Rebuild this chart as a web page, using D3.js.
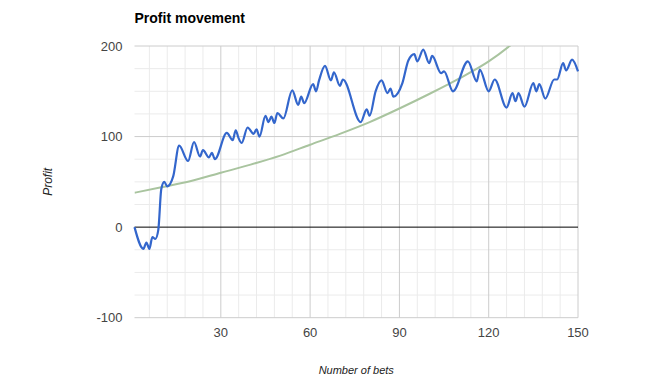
<!DOCTYPE html>
<html>
<head>
<meta charset="utf-8">
<script src="https://cdn.jsdelivr.net/npm/d3@7"></script>
<style>
  body { margin: 0; background: #fff; }
  text { font-family: "Liberation Sans", Arial, sans-serif; }
</style>
</head>
<body>
<div id="chart"></div>
<script>
// profit after each bet (turning points)
const profitBets = [1, 4, 5, 6, 7, 8, 9, 10, 11, 12, 14, 16, 19, 21, 23, 24, 26, 27, 28,
  32, 34, 35, 36, 37, 39, 41, 42, 43, 45, 46, 47, 48, 49, 51, 54, 56, 57, 58,
  61, 62, 63, 65, 67, 68, 70, 71, 77, 79, 80, 82, 84, 86, 87, 88, 91, 93, 95,
  96, 98, 100, 101, 104, 105, 108, 113, 116, 117, 120, 122, 126, 128, 129, 130,
  132, 135, 136, 137, 139, 142, 143, 145, 146, 148, 150];
const profitValues = [0, -24, -17, -24, -11, -13, -3, 42, 50, 45, 56, 90, 73, 94, 78, 85, 77, 82, 75,
  104, 96, 107, 98, 93, 110, 103, 108, 100, 123, 116, 122, 115, 126, 120, 151, 135, 144, 137,
  158, 150, 162, 178, 162, 171, 156, 163, 116, 130, 123, 150, 162, 148, 153, 144, 159, 184, 191,
  183, 196, 181, 189, 170, 172, 150, 183, 161, 174, 150, 163, 132, 148, 139, 148,
  133, 159, 150, 158, 142, 163, 163, 181, 173, 185, 172];

// green reference curve
const targetBets = [1, 10, 20, 30, 40, 50, 60, 70, 80, 90, 100, 110, 120, 127, 132];
const targetValues = [38, 44, 51, 60, 69, 79, 91, 103, 116, 131, 147, 164, 183, 200, 214];

const xTicks = [30, 60, 90, 120, 150];
const yTicks = [-100, 0, 100, 200];

const width = 672, height = 392;
const plot = {left: 134.5, right: 578, top: 46, bottom: 317.7};

const svg = d3.select('#chart').append('svg')
  .attr('width', width)
  .attr('height', height);

const x = d3.scaleLinear().domain([1, 150]).range([plot.left, plot.right]);
const y = d3.scaleLinear().domain([-100, 200]).range([plot.bottom, plot.top]);

// minor grid
const grid = svg.append('g');
grid.selectAll('line.vminor')
  .data(d3.range(6, 151, 6).filter(d => d % 30 != 0))
  .enter().append('line')
  .attr('x1', d => x(d)).attr('x2', d => x(d))
  .attr('y1', plot.top).attr('y2', plot.bottom)
  .attr('stroke', '#ebebeb');
grid.selectAll('line.hminor')
  .data(d3.range(-100, 201, 25).filter(d => d % 100 != 0))
  .enter().append('line')
  .attr('x1', plot.left).attr('x2', plot.right)
  .attr('y1', d => y(d)).attr('y2', d => y(d))
  .attr('stroke', '#ebebeb');

// major grid
grid.selectAll('line.vmajor')
  .data(xTicks)
  .enter().append('line')
  .attr('x1', d => x(d)).attr('x2', d => x(d))
  .attr('y1', plot.top).attr('y2', plot.bottom)
  .attr('stroke', '#cccccc');
grid.selectAll('line.hmajor')
  .data(yTicks.filter(d => d != 0))
  .enter().append('line')
  .attr('x1', plot.left).attr('x2', plot.right)
  .attr('y1', d => y(d)).attr('y2', d => y(d))
  .attr('stroke', '#cccccc');

// tick labels
svg.append('g').selectAll('text')
  .data(yTicks)
  .enter().append('text')
  .attr('x', plot.left - 12)
  .attr('y', d => y(d) + 4.5)
  .attr('text-anchor', 'end')
  .attr('font-size', 13)
  .attr('fill', '#444')
  .text(d => d);
svg.append('g').selectAll('text')
  .data(xTicks)
  .enter().append('text')
  .attr('x', d => x(d))
  .attr('y', 337)
  .attr('text-anchor', 'middle')
  .attr('font-size', 13)
  .attr('fill', '#444')
  .text(d => d);

// clip to plot area
svg.append('clipPath').attr('id', 'clip')
  .append('rect')
  .attr('x', plot.left).attr('y', plot.top)
  .attr('width', plot.right - plot.left)
  .attr('height', plot.bottom - plot.top);

const target = targetBets.map((b, i) => [b, targetValues[i]]);
const profit = profitBets.map((b, i) => [b, profitValues[i]]);

const line = d3.line()
  .x(d => x(d[0]))
  .y(d => y(d[1]))
  .curve(d3.curveMonotoneX);

svg.append('path')
  .attr('clip-path', 'url(#clip)')
  .attr('d', line(target))
  .attr('fill', 'none')
  .attr('stroke', '#a9c49f')
  .attr('stroke-width', 2);

// zero baseline
svg.append('line')
  .attr('x1', plot.left).attr('x2', plot.right)
  .attr('y1', y(0)).attr('y2', y(0))
  .attr('stroke', '#000');

svg.append('path')
  .attr('d', line(profit))
  .attr('fill', 'none')
  .attr('stroke', '#3366cc')
  .attr('stroke-width', 2.2)
  .attr('stroke-linejoin', 'round');

// titles
svg.append('text')
  .attr('x', plot.left)
  .attr('y', 23)
  .attr('font-size', 14)
  .attr('font-weight', 'bold')
  .attr('fill', '#000')
  .text('Profit movement');

svg.append('text')
  .attr('transform', 'translate(52,' + y(50) + ') rotate(-90)')
  .attr('text-anchor', 'middle')
  .attr('font-size', 12)
  .attr('font-style', 'italic')
  .attr('fill', '#222')
  .text('Profit');

svg.append('text')
  .attr('x', (plot.left + plot.right) / 2)
  .attr('y', 374)
  .attr('text-anchor', 'middle')
  .attr('font-size', 11)
  .attr('font-style', 'italic')
  .attr('fill', '#222')
  .text('Number of bets');
</script>
</body>
</html>
